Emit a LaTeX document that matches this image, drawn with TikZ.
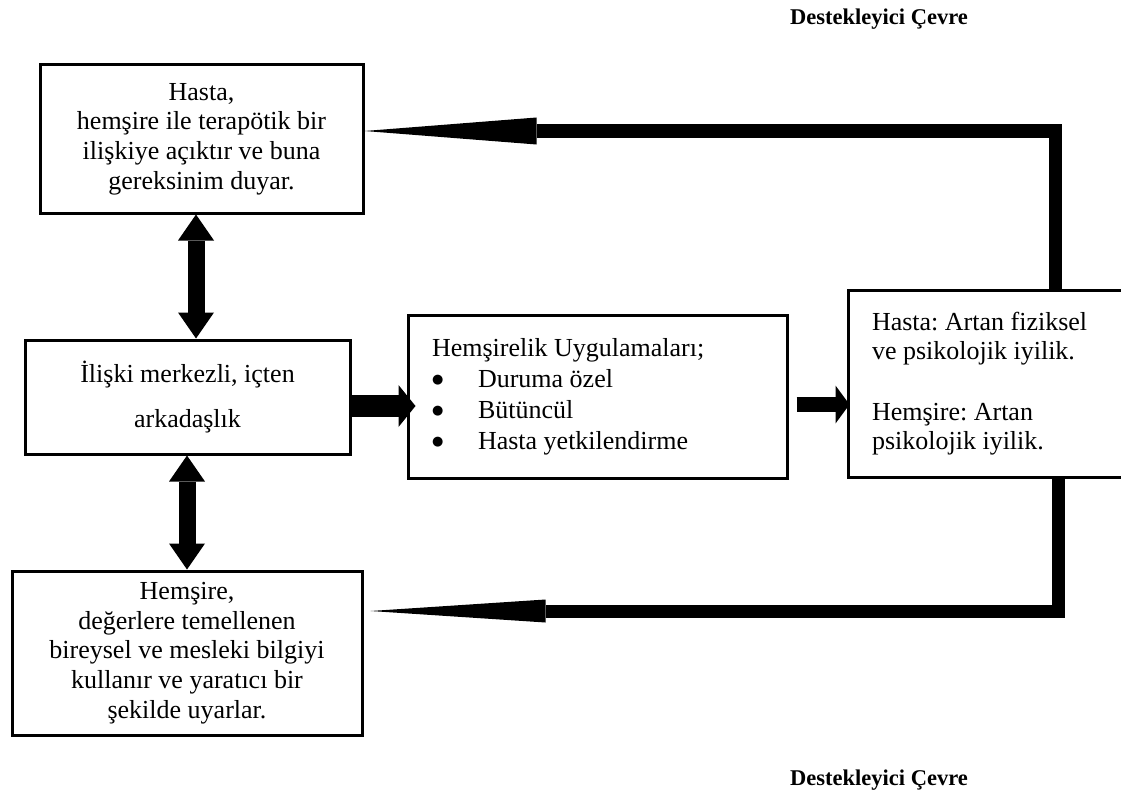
\documentclass[tikz,border=0pt]{standalone}
\usepackage{fontspec}
\setmainfont{Liberation Serif}
\newfontfamily\symfont{DejaVu Sans}
\usetikzlibrary{arrows.meta,calc}
\frenchspacing
\newcommand{\bigdot}{\makebox[46pt][l]{\raisebox{4pt}{\symfont\fontsize{13}{13}\selectfont ●}}}
\begin{document}
\begin{tikzpicture}[x=1pt,y=-1pt,
  boxstyle/.style={draw, line width=3pt, inner sep=0pt, font=\fontsize{26}{29.6}\selectfont},
  titlestyle/.style={inner sep=0pt, font=\bfseries\fontsize{22.5}{27}\selectfont},
  fbtop/.style={line width=13pt, line join=miter, -{Triangle[length=172pt,width=27pt,line width=0pt]}},
  fbbot/.style={line width=13pt, line join=miter, -{Triangle[length=175pt,width=23pt,line width=0pt]}},
  dblarrow/.style={line width=17pt, {Triangle[length=26pt,width=36pt,line width=0pt]}-{Triangle[length=26pt,width=36pt,line width=0pt]}},
  blkone/.style={line width=22pt, -{Triangle[length=17pt,width=42pt,line width=0pt]}},
  blktwo/.style={line width=15pt, -{Triangle[length=14pt,width=38pt,line width=0pt]}}
]
\useasboundingbox (0,0) rectangle (1121,797);

\node[titlestyle] (ttop) at (879,19) {Destekleyici Çevre};
\node[titlestyle] (tbot) at (879,780) {Destekleyici Çevre};

\node[boxstyle, minimum width=323pt, minimum height=148pt, align=center] (hasta) at (201.5,139)
  {Hasta,\\hemşire ile terapötik bir\\ilişkiye açıktır ve buna\\gereksinim duyar.};
\node[boxstyle, minimum width=325pt, minimum height=114pt, align=center, font=\fontsize{26}{45}\selectfont] (iliski) at (187.5,397)
  {İlişki merkezli, içten\\arkadaşlık};
\node[boxstyle, minimum width=350pt, minimum height=164pt, align=center] (nurse) at (187,653)
  {Hemşire,\\değerlere temellenen\\bireysel ve mesleki bilgiyi\\kullanır ve yaratıcı bir\\şekilde uyarlar.};
\node[boxstyle, minimum width=379pt, minimum height=163pt, text width=331pt, align=flush left, font=\fontsize{26}{31}\selectfont] (mid) at (597.5,396.5)
  {Hemşirelik Uygulamaları;\\\bigdot Duruma özel\\\bigdot Bütüncül\\\bigdot Hasta yetkilendirme};
\node[boxstyle, minimum width=276pt, minimum height=187pt, text width=228pt, align=flush left, font=\fontsize{26}{28.5}\selectfont] (rbox) at (986,383.5)
  {Hasta: Artan fiziksel\\ve psikolojik iyilik.\\[33pt]Hemşire: Artan\\psikolojik iyilik.};

\coordinate (c1) at (1055,131);
\coordinate (c2) at (1058,611);
\coordinate (d1) at (196,0);
\coordinate (d2) at (187,0);
\coordinate (h1) at (0,406);
\coordinate (h2) at (0,404.5);

\draw[fbtop] (rbox.north -| c1) -- (c1) -- (c1 -| hasta.east);
\draw[fbbot] (rbox.south -| c2) -- (c2) -- ($(c2 -| nurse.east)+(7,0)$);
\draw[dblarrow] (hasta.south -| d1) -- (iliski.north -| d1);
\draw[dblarrow] (iliski.south -| d2) -- (nurse.north -| d2);
\draw[blkone] (iliski.east |- h1) -- ($(mid.west |- h1)+(9,0)$);
\draw[blktwo] ($(mid.east |- h2)+(8,0)$) -- ($(rbox.west |- h2)+(3,0)$);
\end{tikzpicture}
\end{document}
